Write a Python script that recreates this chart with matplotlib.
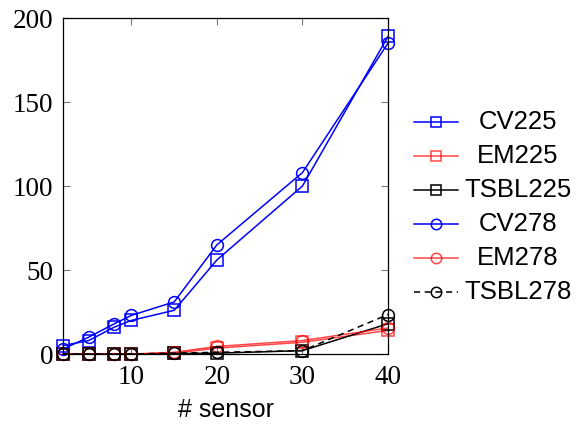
import matplotlib
matplotlib.use("Agg")
import matplotlib.pyplot as plt
from matplotlib.lines import Line2D

sensors = [2, 5, 8, 10, 15, 20, 30, 40]
cv225 = [5, 8, 16, 20, 26, 56, 100, 189]
em225 = [0, 0, 0, 0, 0.5, 3.5, 7, 14]
tsbl225 = [0, 0, 0, 0, 0.3, 0.5, 2, 18]
cv278 = [3, 10, 18, 23, 31, 65, 108, 185]
em278 = [0, 0, 0, 0, 1, 4.5, 8, 15.5]
tsbl278 = [0, 0, 0, 0, 0.5, 1, 2, 23.5]

labels = ["CV225", "EM225", "TSBL225", "CV278", "EM278", "TSBL278"]
series = [cv225, em225, tsbl225, cv278, em278, tsbl278]
xticks = [10, 20, 30, 40]
yticks = [0, 50, 100, 150, 200]

blue = "#0000ff"
red = (1.0, 0.0, 0.0, 0.72)
black = "#000000"
styles = [
    dict(color=blue, marker="s", ls="-"),
    dict(color=red, marker="s", ls="-"),
    dict(color=black, marker="s", ls="-"),
    dict(color=blue, marker="o", ls="-"),
    dict(color=red, marker="o", ls="-"),
    dict(color=black, marker="o", ls=(0, (4, 3))),
]

fig = plt.figure(figsize=(5.78, 4.24), dpi=100)
ax = fig.add_axes([63/578, 1-354/424, 325/578, 336/424])

for lab, ys, st in zip(labels, series, styles):
    ax.plot(sensors, ys, color=st["color"], marker=st["marker"], ls=st["ls"],
            lw=1.1, ms=8.5, mfc="none", mec=st["color"], mew=1.1, label=lab,
            clip_on=False)

ax.set_xlim(2, 40)
ax.set_ylim(0, 200)
ax.set_xticks(xticks)
ax.set_yticks(yticks)
ax.tick_params(direction="in", top=True, right=True, length=5, width=0.8,
               color="#777777", labelsize=19.5)
ax.tick_params(axis="x", pad=8)
ax.tick_params(axis="y", pad=7)
for lbl in ax.get_xticklabels() + ax.get_yticklabels():
    lbl.set_fontfamily("Liberation Serif")
for sp in ax.spines.values():
    sp.set_linewidth(0.9)
ax.set_xlabel("# sensor", fontfamily="Liberation Sans", fontsize=18, labelpad=6)

# legend (manual, centered text as in reference)
row_y = [122, 156, 190, 224, 258, 292]
for lab, st, yy in zip(labels, styles, row_y):
    yf = 1 - yy/424
    x0, x1 = 414/578, 458/578
    ln = Line2D([x0, x1], [yf, yf], transform=fig.transFigure, color=st["color"],
                ls=st["ls"], lw=1.1)
    mk = Line2D([(x0+x1)/2], [yf], transform=fig.transFigure, color=st["color"],
                marker=st["marker"], ms=7.5, mfc="none", mec=st["color"], mew=1.1, ls="none")
    fig.add_artist(ln)
    fig.add_artist(mk)
    fig.text(518/578, yf, lab, ha="center", va="center",
             fontfamily="Liberation Sans", fontsize=18.5)

fig.savefig("out.png", dpi=100)
